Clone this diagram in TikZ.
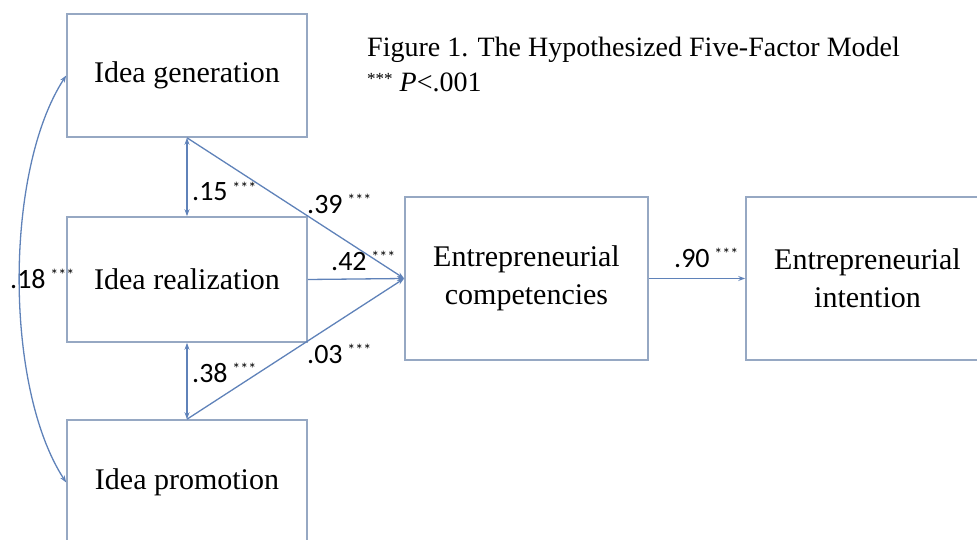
\documentclass[tikz,border=0pt]{standalone}
\usepackage{fontspec}
\setmainfont{Liberation Serif}
\newfontfamily\numfont{Carlito}
\usetikzlibrary{arrows.meta}
\definecolor{boxline}{RGB}{150,168,195}
\definecolor{arrowline}{RGB}{95,130,185}
\newcommand{\sig}{\,\raisebox{8pt}{\fontsize{16}{16}\selectfont ***}}
\begin{document}
\begin{tikzpicture}[x=1pt, y=-1pt,
  box/.style={draw=boxline, line width=1.6pt, inner sep=0pt, align=center, font=\fontsize{30}{38}\selectfont},
  link/.style={draw=arrowline, line width=1.3pt, -{Stealth[length=7pt,width=5pt]}},
  both/.style={link, {Stealth[length=7pt,width=5pt]}-{Stealth[length=7pt,width=5pt]}},
  coef/.style={anchor=base west, inner sep=0pt, font=\numfont\fontsize{28}{28}\selectfont}]
\useasboundingbox (0,0) rectangle (977,540);
\clip (0,0) rectangle (977,540);

% Five factors
\node[box, minimum width=240, minimum height=123] (gen) at (187,75.5) {Idea generation};
\node[box, minimum width=240, minimum height=125] (real) at (187,279.5) {Idea realization};
\node[box, minimum width=240, minimum height=125] (pro) at (187,482.5) {Idea promotion};
\node[box, minimum width=243, minimum height=163] (ec) at (526.5,278.5) {Entrepreneurial\\competencies};
\node[box, minimum width=243, minimum height=163] (ei) at (867.5,278.5) {Entrepreneurial\\intention};

% Caption
\node[anchor=base west, inner sep=0pt, font=\fontsize{28}{34}\selectfont] (title) at (367,57) {Figure 1. The Hypothesized Five-Factor Model};
\node[anchor=base west, inner sep=0pt, font=\fontsize{28}{34}\selectfont] (pnote) at (367,92) {\raisebox{7pt}{\fontsize{17}{17}\selectfont ***} \textit{P}<.001};

% Paths
\draw[both] (gen.south) -- (real.north);
\draw[both] (real.south) -- (pro.north);
\draw[both] (gen.west) .. controls +(-62,95) and +(-62,-95) .. (pro.west);
\draw[link] (gen.south) -- (ec.west);
\draw[link] (real.east) -- (ec.west);
\draw[link] (pro.north) -- (ec.west);
\draw[link] (ec.east) -- (ei.west);

% Coefficients
\node[coef] (c15) at (192,201) {.15\sig};
\node[coef] (c39) at (307,214) {.39\sig};
\node[coef] (c42) at (331,270) {.42\sig};
\node[coef] (c18) at (10,288) {.18\sig};
\node[coef] (c38) at (192,382) {.38\sig};
\node[coef] (c03) at (307,363) {.03\sig};
\node[coef] (c90) at (674,267) {.90\sig};
\end{tikzpicture}
\end{document}
